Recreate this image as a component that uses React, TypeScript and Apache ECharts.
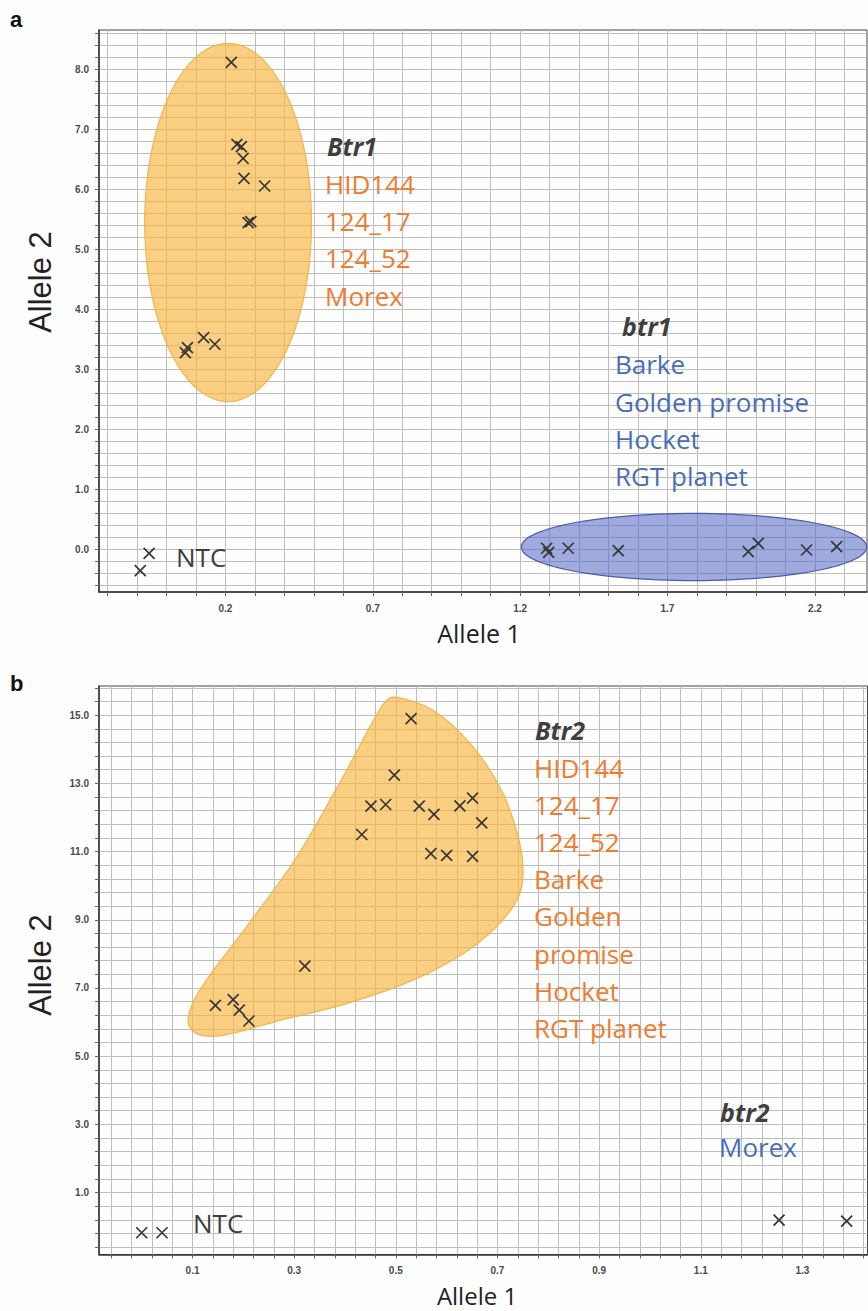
import React, { useEffect, useRef } from "react";
import * as echarts from "echarts";

// ---------- Panel a data ----------
const aOrangeX = [0.22, 0.239, 0.254, 0.26, 0.263, 0.333, 0.277, 0.286, 0.064, 0.071, 0.126, 0.164];
const aOrangeY = [8.117, 6.75, 6.71, 6.517, 6.183, 6.055, 5.443, 5.46, 3.277, 3.36, 3.527, 3.417];
const aBlueX = [1.29, 1.297, 1.363, 1.533, 1.974, 2.008, 2.172, 2.274];
const aBlueY = [0.017, -0.05, 0.017, -0.023, -0.04, 0.1, -0.012, 0.043];
const aNtcX = [-0.089, -0.059];
const aNtcY = [-0.357, -0.067];
// ellipses: [cx, cy, rx, ry]
const aOrangeEllipse = [0.209, 5.447, 0.283, 2.987];
const aBlueEllipse = [1.79, 0.038, 0.586, 0.56];
const aXLabels = [0.2, 0.7, 1.2, 1.7, 2.2];
const aYLabels = [0, 1, 2, 3, 4, 5, 6, 7, 8];

// ---------- Panel b data ----------
const bOrangeX = [0.53, 0.497, 0.451, 0.48, 0.546, 0.575, 0.626, 0.651, 0.669, 0.433, 0.569, 0.6, 0.651, 0.145, 0.18, 0.192, 0.211, 0.321];
const bOrangeY = [14.9, 13.24, 12.33, 12.38, 12.33, 12.09, 12.34, 12.57, 11.84, 11.5, 10.94, 10.89, 10.86, 6.49, 6.66, 6.35, 6.03, 7.64];
const bBlueX = [1.254, 1.387];
const bBlueY = [0.19, 0.16];
const bNtcX = [0.0, 0.04];
const bNtcY = [-0.18, -0.18];
const bBlobX = [0.502, 0.574, 0.652, 0.711, 0.744, 0.75, 0.738, 0.698, 0.633, 0.534, 0.403, 0.272, 0.16, 0.108, 0.091, 0.114, 0.206, 0.305, 0.403, 0.456, 0.482];
const bBlobY = [15.52, 15.14, 14.07, 12.7, 11.23, 10.26, 9.57, 8.79, 8.01, 7.23, 6.54, 6.05, 5.61, 5.66, 6.05, 6.93, 8.79, 10.84, 13.38, 14.85, 15.44];
const bXLabels = [0.1, 0.3, 0.5, 0.7, 0.9, 1.1, 1.3];
const bYLabels = [1, 3, 5, 7, 9, 11, 13, 15];

const zip = (xs: number[], ys: number[]) => xs.map((x, i) => [x, ys[i]]);
const steps = (start: number, step: number, end: number) => {
  const out: number[] = [];
  for (let v = start; v <= end + 1e-9; v += step) out.push(Math.round(v * 1000) / 1000);
  return out;
};

const ORANGE_TXT = "#ED7D31";
const BLUE_TXT = "#4A6EB5";
const DARK_TXT = "#3F3F3F";
const CROSS = "path://M0 0L10 10M10 0L0 10";
const ANNOT_FONT = "'Open Sans', 'Noto Sans', sans-serif";
const ARIAL = "'Liberation Sans', Arial, sans-serif";

function makeAxis(gridIndex: number, min: number, max: number, grid: number[], labels: number[], isY: boolean) {
  return {
    type: "value",
    gridIndex,
    min,
    max,
    axisLine: { show: true, onZero: false, lineStyle: { color: "#333", width: 1.5 } },
    axisTick: { show: true, customValues: grid, length: 4, lineStyle: { color: "#666", width: 1 } },
    axisLabel: {
      show: true,
      customValues: labels,
      formatter: (v: number) => v.toFixed(1),
      fontSize: 10,
      fontWeight: 600,
      color: "#4a4a4a",
      fontFamily: ARIAL,
      margin: isY ? 10 : 11,
    },
    splitLine: { show: true, lineStyle: { color: "#bdbdbd", width: 1 } },
  };
}

function ellipseSeries(name: string, xi: number, e: number[], fill: string, stroke: string) {
  return {
    type: "custom",
    name,
    xAxisIndex: xi,
    yAxisIndex: xi,
    data: [e],
    z: 3,
    silent: true,
    renderItem: (_p: any, api: any) => {
      const cx = api.value(0), cy = api.value(1), rx = api.value(2), ry = api.value(3);
      const pts: number[][] = [];
      const n = 120;
      for (let i = 0; i < n; i++) {
        const t = (i / n) * Math.PI * 2;
        pts.push(api.coord([cx + rx * Math.cos(t), cy + ry * Math.sin(t)]));
      }
      return { type: "polygon", shape: { points: pts }, style: { fill, stroke, lineWidth: 1.2 } };
    },
  };
}

function scatter(xi: number, data: number[][]) {
  return {
    type: "scatter",
    xAxisIndex: xi,
    yAxisIndex: xi,
    data,
    symbol: CROSS,
    symbolSize: 11,
    z: 5,
    itemStyle: { color: "none", borderColor: "#363636", borderWidth: 1.7, opacity: 1 },
  };
}

function txt(x: number, y: number, text: string, color: string, size: number, opts: any = {}) {
  return {
    type: "text",
    x,
    y,
    z: 10,
    style: {
      text,
      fill: color,
      fontSize: size,
      fontFamily: opts.family || ANNOT_FONT,
      fontWeight: opts.weight || "normal",
      fontStyle: opts.style || "normal",
      align: opts.align || "left",
      verticalAlign: "middle",
    },
    rotation: opts.rotation || 0,
  };
}

export default function App() {
  const ref = useRef<HTMLDivElement>(null);
  useEffect(() => {
    document.body.style.margin = "0";
    const chart = echarts.init(ref.current!, null, { renderer: "svg" });
    const blob = zip(bBlobX, bBlobY);
    const option: any = {
      animation: false,
      backgroundColor: "#fefefe",
      grid: [
        { left: 99, top: 30, width: 768, height: 562, show: true, borderColor: "#444", borderWidth: 1, backgroundColor: "transparent" },
        { left: 99, top: 686, width: 768.5, height: 568.5, show: true, borderColor: "#444", borderWidth: 1, backgroundColor: "transparent" },
      ],
      xAxis: [
        makeAxis(0, -0.229, 2.377, steps(-0.2, 0.1, 2.3), aXLabels, false),
        makeAxis(1, -0.084, 1.428, steps(-0.06, 0.04, 1.42), bXLabels, false),
      ],
      yAxis: [
        makeAxis(0, -0.712, 8.655, steps(-0.6, 0.2, 8.6), aYLabels, true),
        makeAxis(1, -0.818, 15.856, steps(-0.6, 0.4, 15.8), bYLabels, true),
      ],
      series: [
        ellipseSeries("Btr1 cluster", 0, aOrangeEllipse, "rgba(249,182,64,0.66)", "rgba(240,175,70,0.9)"),
        ellipseSeries("btr1 cluster", 0, aBlueEllipse, "rgba(80,100,195,0.55)", "rgba(70,85,170,0.95)"),
        {
          type: "custom",
          name: "Btr2 cluster",
          xAxisIndex: 1,
          yAxisIndex: 1,
          data: [0],
          z: 3,
          silent: true,
          renderItem: (_p: any, api: any) => ({
            type: "polygon",
            shape: { points: blob.map((p) => api.coord(p)), smooth: 0.35 },
            style: { fill: "rgba(249,182,64,0.66)", stroke: "rgba(240,175,70,0.9)", lineWidth: 1.2 },
          }),
        },
        scatter(0, zip(aOrangeX, aOrangeY)),
        scatter(0, zip(aBlueX, aBlueY)),
        scatter(0, zip(aNtcX, aNtcY)),
        scatter(1, zip(bOrangeX, bOrangeY)),
        scatter(1, zip(bBlueX, bBlueY)),
        scatter(1, zip(bNtcX, bNtcY)),
      ],
      graphic: [
        txt(10, 19, "a", "#111", 22, { weight: "bold", family: ARIAL }),
        txt(10, 683, "b", "#111", 22, { weight: "bold", family: ARIAL }),
        // axis titles panel a
        txt(479, 633, "Allele 1", "#222", 25, { align: "center" }),
        txt(40, 282, "Allele 2", "#222", 31, { rotation: Math.PI / 2, align: "center", family: ARIAL }),
        // axis titles panel b
        txt(477, 1295, "Allele 1", "#222", 24, { align: "center" }),
        txt(40, 965, "Allele 2", "#222", 31, { rotation: Math.PI / 2, align: "center", family: ARIAL }),
        // annotations panel a
        txt(327, 146, "Btr1", DARK_TXT, 25, { weight: "bold", style: "italic" }),
        txt(325, 183.5, "HID144", ORANGE_TXT, 26),
        txt(325, 221, "124_17", ORANGE_TXT, 26),
        txt(325, 257.5, "124_52", ORANGE_TXT, 26),
        txt(325, 296, "Morex", ORANGE_TXT, 26),
        txt(622, 326, "btr1", DARK_TXT, 25, { weight: "bold", style: "italic" }),
        txt(615, 364, "Barke", BLUE_TXT, 26),
        txt(615, 402, "Golden promise", BLUE_TXT, 26),
        txt(615, 439, "Hocket", BLUE_TXT, 26),
        txt(615, 476, "RGT planet", BLUE_TXT, 26),
        txt(176, 557, "NTC", DARK_TXT, 26),
        // annotations panel b
        txt(535, 730, "Btr2", DARK_TXT, 25, { weight: "bold", style: "italic" }),
        txt(534, 767.5, "HID144", ORANGE_TXT, 26),
        txt(534, 804.5, "124_17", ORANGE_TXT, 26),
        txt(534, 841.5, "124_52", ORANGE_TXT, 26),
        txt(534, 879, "Barke", ORANGE_TXT, 26),
        txt(534, 916, "Golden", ORANGE_TXT, 26),
        txt(534, 953.5, "promise", ORANGE_TXT, 26),
        txt(534, 990.5, "Hocket", ORANGE_TXT, 26),
        txt(534, 1028, "RGT planet", ORANGE_TXT, 26),
        txt(720, 1112, "btr2", DARK_TXT, 25, { weight: "bold", style: "italic" }),
        txt(719, 1147, "Morex", BLUE_TXT, 26),
        txt(193, 1223, "NTC", DARK_TXT, 26),
      ],
    };
    chart.setOption(option);
    return () => chart.dispose();
  }, []);
  return <div ref={ref} style={{ width: 868, height: 1311 }} />;
}
